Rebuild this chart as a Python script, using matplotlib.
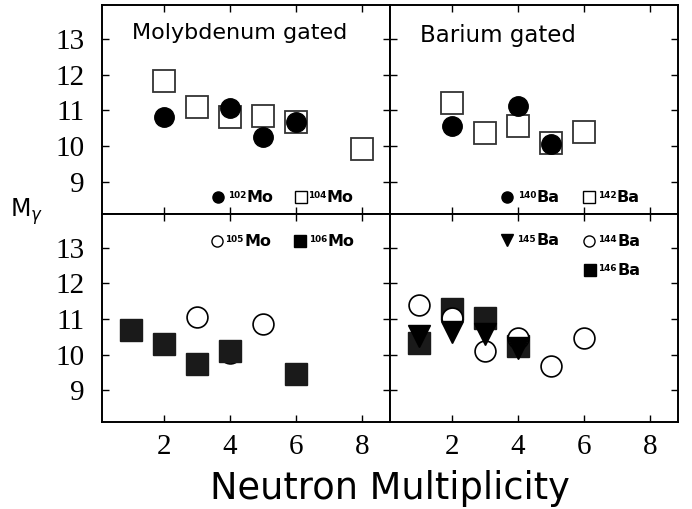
import numpy as np
import matplotlib.pyplot as plt

# Molybdenum gated (top left)
mo102_x = [2, 4, 5, 6]
mo102_y = [10.81, 11.06, 10.26, 10.66]
mo104_x = [2, 3, 4, 5, 6, 8]
mo104_y = [11.81, 11.09, 10.81, 10.83, 10.66, 9.92]

# Barium gated (top right)
ba140_x = [2, 4, 5]
ba140_y = [10.57, 11.13, 10.06]
ba142_x = [2, 3, 4, 5, 6]
ba142_y = [11.20, 10.36, 10.55, 10.08, 10.38]

# bottom left
mo105_x = [3, 4, 5]
mo105_y = [11.06, 10.06, 10.86]
mo106_x = [1, 2, 3, 4, 6]
mo106_y = [10.69, 10.30, 9.74, 10.11, 9.45]

# bottom right
ba145_x = [1, 2, 3, 4]
ba145_y = [10.52, 10.64, 10.57, 10.18]
ba144_x = [1, 2, 3, 4, 5, 6]
ba144_y = [11.39, 11.02, 10.11, 10.46, 9.67, 10.46]
ba146_x = [1, 2, 3, 4]
ba146_y = [10.32, 11.27, 11.04, 10.24]

xticks = [2, 4, 6, 8]
yticks = [9, 10, 11, 12, 13]

SERIF = 'Liberation Serif'
SANS = 'DejaVu Sans'

fig, axes = plt.subplots(2, 2, figsize=(6.92, 5.09), dpi=100, sharex=True, sharey=True)
fig.subplots_adjust(left=0.147, right=0.98, top=0.990, bottom=0.170, wspace=0, hspace=0)

for ax in axes.flat:
	ax.set_xlim(0.12, 8.85)
	ax.set_ylim(8.1, 13.95)
	ax.set_xticks(xticks)
	ax.set_yticks(yticks)
	ax.tick_params(direction='in', top=True, right=True, length=5, width=1,
	               labelsize=21, pad=12)
	for lab in ax.get_xticklabels() + ax.get_yticklabels():
		lab.set_fontfamily(SERIF)
	for s in ax.spines.values():
		s.set_linewidth(1.4)
for ax in axes[0]:
	ax.tick_params(labelbottom=False)
for ax in axes[:, 1]:
	ax.tick_params(labelleft=False)
for ax in axes[1]:
	ax.tick_params(axis='x', pad=8)

def legend_item(ax, mx, my, marker, filled, mass, sym, tx):
	ax.plot([mx], [my], marker=marker, ms=8, mfc='black' if filled else 'white',
	        mec='black', mew=1, transform=ax.transAxes, clip_on=False)
	el = ax.text(tx, my - 0.005, sym, transform=ax.transAxes, ha='left', va='center',
	             fontsize=11.5, fontweight='bold', family=SANS)
	ax.annotate(mass, xy=(0, 1), xycoords=el, xytext=(-0.2, -0.8),
	            textcoords='offset points', ha='right', va='top',
	            fontsize=6.4, fontweight='bold', family=SANS)

# top left
ax = axes[0, 0]
ax.plot(mo104_x, mo104_y, 's', ms=16, mfc='white', mec='#333333', mew=1.3)
ax.plot(mo102_x, mo102_y, 'o', ms=14, mfc='black', mec='black')
ax.text(0.104, 0.866, 'Molybdenum gated', transform=ax.transAxes, ha='left',
        va='center', fontsize=16, family=SANS)
legend_item(ax, 0.405, 0.082, 'o', True, '102', 'Mo', 0.503)
legend_item(ax, 0.691, 0.082, 's', False, '104', 'Mo', 0.781)

# top right
ax = axes[0, 1]
ax.plot(ba142_x, ba142_y, 's', ms=16, mfc='white', mec='#333333', mew=1.3)
ax.plot(ba140_x, ba140_y, 'o', ms=14, mfc='black', mec='black')
ax.text(0.105, 0.856, 'Barium gated', transform=ax.transAxes, ha='left',
        va='center', fontsize=16.5, family=SANS)
legend_item(ax, 0.406, 0.082, 'o', True, '140', 'Ba', 0.508)
legend_item(ax, 0.689, 0.082, 's', False, '142', 'Ba', 0.786)

# bottom left
ax = axes[1, 0]
ax.plot(mo105_x, mo105_y, 'o', ms=15, mfc='white', mec='black', mew=1.2)
ax.plot(mo106_x, mo106_y, 's', ms=16, mfc='#1a1a1a', mec='#1a1a1a')
legend_item(ax, 0.399, 0.871, 'o', False, '105', 'Mo', 0.494)
legend_item(ax, 0.689, 0.871, 's', True, '106', 'Mo', 0.783)

# bottom right
ax = axes[1, 1]
ax.plot(ba146_x, ba146_y, 's', ms=16, mfc='#1a1a1a', mec='#1a1a1a')
ax.plot(ba144_x, ba144_y, 'o', ms=15, mfc='white', mec='black', mew=1.2)
ax.plot(ba145_x, ba145_y, 'v', ms=16, mfc='black', mec='black')
legend_item(ax, 0.406, 0.875, 'v', True, '145', 'Ba', 0.508)
legend_item(ax, 0.689, 0.871, 'o', False, '144', 'Ba', 0.788)
legend_item(ax, 0.693, 0.733, 's', True, '146', 'Ba', 0.788)

fig.text(0.038, 0.585, r'M$_\gamma$', ha='center', va='center', fontsize=17, family=SANS)
fig.text(0.563, 0.04, 'Neutron Multiplicity', ha='center', va='center',
         fontsize=26.5, family=SANS)

plt.savefig('out.png', dpi=100)
